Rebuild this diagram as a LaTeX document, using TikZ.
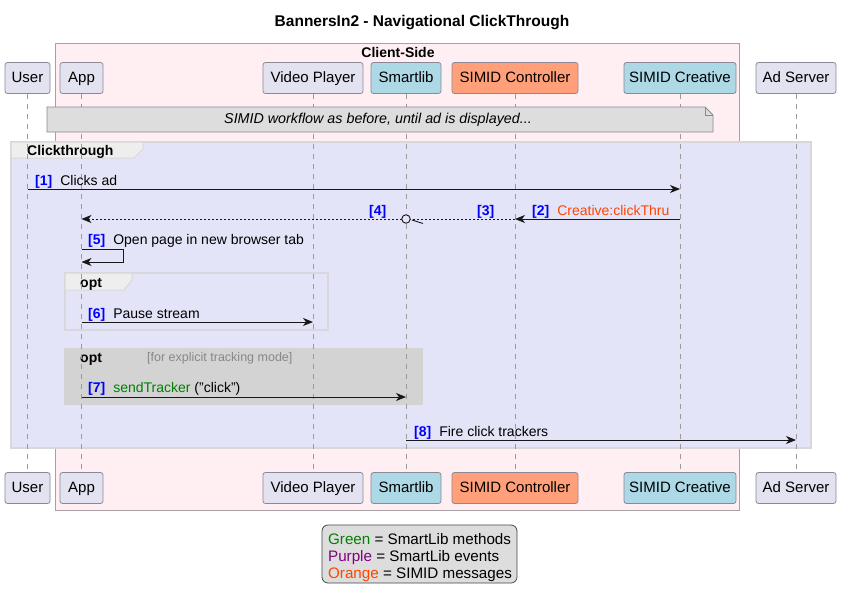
\documentclass[tikz,border=0pt]{standalone}
\usepackage{fontspec}
\setmainfont{Liberation Sans}
\usetikzlibrary{arrows.meta}
\definecolor{clientpink}{HTML}{FFEEF2}
\definecolor{clientborder}{HTML}{A8A0A4}
\definecolor{partfill}{HTML}{E2E2F0}
\definecolor{partborder}{HTML}{8A8A96}
\definecolor{lblue}{HTML}{ADD8E6}
\definecolor{lsalmon}{HTML}{FFA07A}
\definecolor{grpfill}{HTML}{E4E4F8}
\definecolor{grpborder}{HTML}{D8D8DC}
\definecolor{tabfill}{HTML}{EEEEEE}
\definecolor{notefill}{HTML}{DDDDDD}
\definecolor{optgray}{HTML}{D3D3D3}
\definecolor{lifegray}{HTML}{9A9A9A}
\definecolor{arrowcol}{HTML}{181818}
\definecolor{numblue}{HTML}{0000FF}
\definecolor{simidorange}{HTML}{FF4500}
\definecolor{slgreen}{HTML}{008000}
\definecolor{slpurple}{HTML}{800080}
\definecolor{guardgray}{HTML}{888888}
\newcommand{\fs}[1]{\fontsize{#1}{#1}\selectfont}
\newcommand{\num}[1]{\textcolor{numblue}{\bfseries[#1]}\hspace{8pt}}
\begin{document}
\begin{tikzpicture}[x=1pt,y=-1pt,
  part/.style={draw=partborder, fill=partfill, rounded corners=2.5pt, line width=0.8pt,
    minimum height=31pt, inner sep=0pt, text height=11pt, text depth=3pt, font=\fs{15}},
  lifeline/.style={draw=lifegray, line width=0.9pt, dash pattern=on 5pt off 5pt},
  msg/.style={draw=arrowcol, line width=0.9pt, -{Stealth[length=10pt,width=8pt,inset=3pt]}},
  dmsg/.style={draw=arrowcol, line width=0.9pt, dash pattern=on 2pt off 2pt},
  lbl/.style={anchor=base west, inner sep=0pt, font=\fs{14}},
  grptab/.style={fill=tabfill, draw=grpborder, line width=1pt},
  grplbl/.style={anchor=base west, inner sep=0pt, font=\bfseries\fs{14}}
]
\useasboundingbox (0,0) rectangle (842,605);
\fill[white] (0,0) rectangle (842,605);

% title
\node[font=\bfseries\fs{15.5}, inner sep=0pt] (title) at (422,23) {BannersIn2 - Navigational ClickThrough};

% client-side box
\draw[fill=clientpink, draw=clientborder, line width=1pt] (55,43) rectangle (739,510);
\node[font=\bfseries\fs{14}, inner sep=0pt] (clientlbl) at (398,52) {Client-Side};

% Clickthrough group
\draw[fill=grpfill, draw=grpborder, line width=1.5pt] (11,142) rectangle (811,448);
\draw[grptab] (11,142) -- (143,142) -- (143,149) -- (134,158) -- (11,158) -- cycle;
\node[grplbl] (ctlbl) at (27,155) {Clickthrough};

% opt 1
\draw[draw=grpborder, line width=1.5pt] (65,273) rectangle (328,330);
\draw[grptab] (65,273) -- (132,273) -- (132,280) -- (124,290) -- (65,290) -- cycle;
\node[grplbl] (opt1lbl) at (80,287) {opt};

% opt 2
\fill[optgray] (64,348) rectangle (423,405);
\node[grplbl] (opt2lbl) at (80,362) {opt};
\node[anchor=base west, inner sep=0pt, font=\fs{12.5}, text=guardgray] (opt2guard) at (147,361) {[for explicit tracking mode]};

% participants (top)
\node[part, minimum width=45pt] (userT) at (27.5,78) {User};
\node[part, minimum width=43pt] (appT) at (81.5,78) {App};
\node[part, minimum width=100pt] (vpT) at (313,78) {Video Player};
\node[part, minimum width=70pt, fill=lblue] (slT) at (406,78) {Smartlib};
\node[part, minimum width=126pt, fill=lsalmon] (scT) at (515,78) {SIMID Controller};
\node[part, minimum width=112pt, fill=lblue] (crT) at (680,78) {SIMID Creative};
\node[part, minimum width=80pt] (asT) at (796,78) {Ad Server};
% participants (bottom)
\node[part, minimum width=45pt] (userB) at (27.5,488) {User};
\node[part, minimum width=43pt] (appB) at (81.5,488) {App};
\node[part, minimum width=100pt] (vpB) at (313,488) {Video Player};
\node[part, minimum width=70pt, fill=lblue] (slB) at (406,488) {Smartlib};
\node[part, minimum width=126pt, fill=lsalmon] (scB) at (515,488) {SIMID Controller};
\node[part, minimum width=112pt, fill=lblue] (crB) at (680,488) {SIMID Creative};
\node[part, minimum width=80pt] (asB) at (796,488) {Ad Server};

% lifelines
\foreach \p in {user,app,vp,sl,sc,cr,as}{
  \draw[lifeline] (\p T.south) -- (\p B.north);
}

% note
\draw[fill=notefill, draw=partborder, line width=0.8pt] (47,107) -- (705,107) -- (713,115) -- (713,132) -- (47,132) -- cycle;
\draw[draw=partborder, line width=0.8pt] (705,107) -- (705,115) -- (713,115);
\node[font=\itshape\fs{14.3}, inner sep=0pt] (note) at (378,120) {SIMID workflow as before, until ad is displayed...};

% message coordinates
\coordinate (m1a) at (userT.south |- 0,189);
\coordinate (m1b) at (crT.south |- 0,189);
\coordinate (m2a) at (crT.south |- 0,219);
\coordinate (m2b) at (scT.south |- 0,219);
\coordinate (m4a) at (slT.south |- 0,219);
\coordinate (m4b) at (appT.south |- 0,219);
\coordinate (m5a) at (appT.south |- 0,249);
\coordinate (m5b) at (appT.south |- 0,262);
\coordinate (m6a) at (appT.south |- 0,322);
\coordinate (m6b) at (vpT.south |- 0,322);
\coordinate (m7a) at (appT.south |- 0,397);
\coordinate (m7b) at (slT.south |- 0,397);
\coordinate (m8a) at (slT.south |- 0,440);
\coordinate (m8b) at (asT.south |- 0,440);

% [1]
\draw[msg] (m1a) -- (m1b);
\node[lbl] (l1) at (35,185) {\num{1}Clicks ad};
% [2]
\draw[msg] (m2a) -- (m2b);
\node[lbl] (l2) at (532,215) {\num{2}\textcolor{simidorange}{Creative:clickThru}};
% [3]
\draw[dmsg] (m2b) -- (m4a);
\node[lbl] (l3) at (477,215) {\textcolor{numblue}{\bfseries[3]}};
\draw[draw=arrowcol, line width=0.9pt] ([xshift=6pt,yshift=-1pt]m4a) -- ([xshift=17pt,yshift=-4.5pt]m4a);
% [4]
\draw[dmsg, -{Stealth[length=10pt,width=8pt,inset=3pt]}] (m4a) -- (m4b);
\node[circle, draw=arrowcol, fill=grpfill, line width=0.9pt, minimum size=8.5pt, inner sep=0pt] (lostc) at (m4a) {};
\node[lbl] (l4) at (369,215) {\textcolor{numblue}{\bfseries[4]}};
% [5]
\draw[msg] (m5a) -- ++(42,0) -- ++(0,13) -- (m5b);
\node[lbl] (l5) at (88,244) {\num{5}Open page in new browser tab};
% [6]
\draw[msg] (m6a) -- (m6b);
\node[lbl] (l6) at (88,318) {\num{6}Pause stream};
% [7]
\draw[msg] (m7a) -- (m7b);
\node[lbl] (l7) at (88,392) {\num{7}\textcolor{slgreen}{sendTracker} ("click")};
% [8]
\draw[msg] (m8a) -- (m8b);
\node[lbl] (l8) at (414,436) {\num{8}Fire click trackers};

% legend
\node[draw=arrowcol!80, fill=notefill, rounded corners=6pt, line width=0.8pt,
  minimum width=195pt, minimum height=58pt, inner sep=0pt] (legendbox) at (419.5,554) {};
\node[inner sep=0pt, align=left, font=\fontsize{15.2}{17}\selectfont] (legend) at (420,557.5)
  {\textcolor{slgreen}{Green} = SmartLib methods\\
   \textcolor{slpurple}{Purple} = SmartLib events\\
   \textcolor{simidorange}{Orange} = SIMID messages};
\end{tikzpicture}
\end{document}
